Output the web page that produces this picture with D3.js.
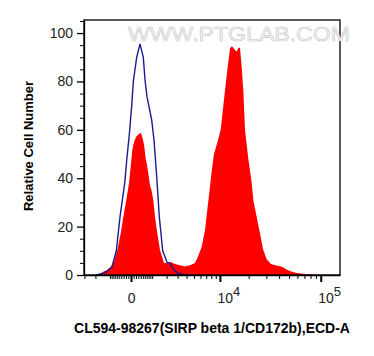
<!DOCTYPE html>
<html>
<head>
<meta charset="utf-8">
<script src="https://cdn.jsdelivr.net/npm/d3@7"></script>
<style>
  body { margin: 0; background: #fff; }
  svg { display: block; }
  text { font-family: Arial, "Liberation Sans", sans-serif; }
</style>
</head>
<body>
<svg id="chart" width="374" height="356"></svg>
<script>
// control histogram (blue line)
const ctrlX = [-1951, -1370, -1113, -879, -648, -465, -372, -253, -169, -65, 26, 88, 227, 372, 527, 612, 715, 976, 1113, 1284, 1458, 1700, 2058, 2284, 2551, 2936, 3579, 4439];
const ctrlY = [0, 0.8, 1.8, 3.4, 10, 24, 30, 38, 47.5, 58, 70, 80, 90, 95.5, 90, 80.6, 73.7, 64, 55.8, 40.6, 24, 10, 5, 5, 2.5, 1, 0.2, 0];

// stained sample histogram (red fill)
const sampleX = [-1951, -1649, -1370, -1194, -953, -769, -597, -432, -314, -185, -77, -11, 49, 116, 198, 283, 404, 465, 562, 648, 731, 879, 964, 1071, 1176, 1324, 1506, 1797, 2058, 2284, 2739, 3246, 3811, 4439, 5139, 5597, 6203, 6786, 7217, 7607, 8103, 8596, 9403, 10196, 11155, 12008, 12515, 12827, 13470, 14130, 15070, 15740, 16310, 16975, 17710, 18340, 19830, 21460, 22260, 24080, 25960, 27980, 30240, 33320, 36710, 41050, 44590, 47640, 53200, 59500, 74030, 98400];
const sampleY = [0, 0.5, 1.5, 2, 3.4, 5.5, 10.3, 17.2, 24, 31, 38, 44.8, 51.7, 55, 57, 58, 58.8, 57.5, 54, 48, 44.8, 37, 35, 31, 24, 17.2, 10.3, 5, 5, 5.5, 4.5, 4, 3.5, 4, 5, 7.6, 11.7, 18.6, 27, 34, 43, 50, 55, 60, 73.7, 84.7, 90, 93.7, 94.5, 93.5, 92.3, 94, 93.8, 86, 75, 60, 48, 38, 31, 24, 17.2, 10.3, 6.5, 4.5, 4, 3.6, 3, 2.2, 1.3, 0.8, 0.3, 0];

// ticks
const yMajor = [0, 20, 40, 60, 80, 100];
const yMinor = [5, 10, 15, 25, 30, 35, 45, 50, 55, 65, 70, 75, 85, 90, 95, 105];
const xMajor = [0, 10000, 100000];
const xMinor = [-3000, -2000, -1000, -900, -800, -700, -600, -500, -400, -300, -200, -100,
  100, 200, 300, 400, 500, 600, 700, 800, 900,
  1000, 2000, 3000, 4000, 5000, 6000, 7000, 8000, 9000,
  20000, 30000, 40000, 50000, 60000, 70000, 80000, 90000];

const xTitle = "CL594-98267(SIRP beta 1/CD172b),ECD-A";
const yTitle = "Relative Cell Number";

const svg = d3.select("#chart");
const mLeft = 84, mRight = 340, mTop = 20, mBottom = 275;

const x = d3.scaleSymlog().constant(1750).domain([-3040, 152000]).range([mLeft, mRight]);
const y = d3.scaleLinear().domain([0, 105.4]).range([mBottom, mTop]);

const sample = sampleX.map((v, i) => [v, sampleY[i]]);
const ctrl = ctrlX.map((v, i) => [v, ctrlY[i]]);

// red area
svg.append("path")
  .datum(sample)
  .attr("fill", "#ff0000")
  .attr("d", d3.area().x(d => x(d[0])).y0(y(0)).y1(d => y(d[1])));

// blue line on top
svg.append("path")
  .datum(ctrl)
  .attr("fill", "none")
  .attr("stroke", "#1c1c8e")
  .attr("stroke-width", 1.4)
  .attr("d", d3.line().x(d => x(d[0])).y(d => y(d[1])));

// frame
svg.append("rect")
  .attr("x", mLeft).attr("y", mTop)
  .attr("width", mRight - mLeft).attr("height", mBottom - mTop)
  .attr("fill", "none").attr("stroke", "#000").attr("stroke-width", 1.3);

// watermark
svg.append("text")
  .attr("x", 128).attr("y", 41)
  .attr("font-size", 21)
  .attr("textLength", 222)
  .attr("lengthAdjust", "spacingAndGlyphs")
  .attr("fill", "#f4f4f4")
  .attr("stroke", "#c8c8c8")
  .attr("stroke-width", 0.6)
  .text("WWW.PTGLAB.COM");

// y axis
const yAx = svg.append("g")
  .attr("transform", `translate(${mLeft},0)`)
  .call(d3.axisLeft(y).tickValues(yMajor).tickSize(7).tickSizeOuter(0).tickPadding(4));
yAx.select(".domain").attr("stroke-width", 1.3);
yAx.selectAll(".tick line").attr("stroke-width", 1.3);
yAx.selectAll("text").attr("font-size", 14).attr("fill", "#222").style("font-family", "Arial, 'Liberation Sans', sans-serif");

svg.append("g")
  .attr("transform", `translate(${mLeft},0)`)
  .call(d3.axisLeft(y).tickValues(yMinor).tickSize(4).tickFormat(""))
  .call(g => g.select(".domain").remove());

// x axis
const xAx = svg.append("g")
  .attr("transform", `translate(0,${mBottom})`)
  .call(d3.axisBottom(x).tickValues(xMajor).tickSize(7).tickSizeOuter(0).tickFormat(""));
xAx.select(".domain").attr("stroke-width", 1.3);
xAx.selectAll(".tick line").attr("stroke-width", 2);

svg.append("g")
  .attr("transform", `translate(0,${mBottom})`)
  .call(d3.axisBottom(x).tickValues(xMinor).tickSize(4).tickFormat(""))
  .call(g => g.select(".domain").remove());

// x tick labels with superscript exponents
xAx.selectAll(".tick").each(function (d) {
  const t = d3.select(this).append("text")
    .attr("y", 28)
    .attr("fill", "#222")
    .attr("font-size", 14)
    .style("font-family", "Arial, 'Liberation Sans', sans-serif");
  if (d === 0) {
    t.attr("text-anchor", "middle").text("0");
  } else {
    t.attr("x", -3).attr("text-anchor", "start");
    t.append("tspan").text("10");
    t.append("tspan").attr("dy", -7).attr("font-size", 13).text(Math.round(Math.log10(d)));
  }
});

// titles
svg.append("text")
  .attr("x", 212).attr("y", 333)
  .attr("text-anchor", "middle")
  .attr("font-size", 14).attr("font-weight", "bold")
  .text(xTitle);

svg.append("text")
  .attr("transform", "translate(33,146) rotate(-90)")
  .attr("text-anchor", "middle")
  .attr("font-size", 13).attr("font-weight", "bold")
  .text(yTitle);
</script>
</body>
</html>
